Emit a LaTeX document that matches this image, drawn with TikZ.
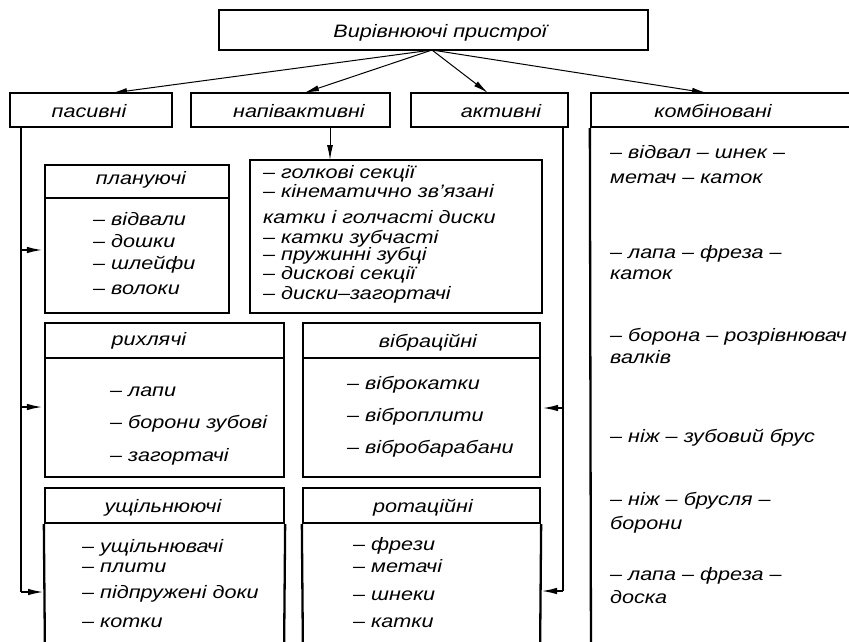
\documentclass[tikz,border=0pt]{standalone}
\usepackage{fontspec}
\setmainfont{Liberation Sans}[FakeStretch=1.2]
\usetikzlibrary{arrows.meta}
\begin{document}
\begin{tikzpicture}[x=1pt,y=-1pt,
  font=\fontsize{18}{20}\selectfont\itshape,
  box/.style={draw, line width=2.3pt, rectangle, inner sep=0pt},
  txt/.style={anchor=base west, inner sep=0pt},
  lbl/.style={anchor=base, inner sep=0pt},
  conn/.style={line width=2.3pt},
  arr/.style={line width=2.3pt, -{Latex[length=17pt,width=6.5pt]}},
  thinarr/.style={line width=1pt, -{Latex[length=15pt,width=6pt]}}]
\useasboundingbox (0,0) rectangle (849,641);

% top box
\node[box, minimum width=429pt, minimum height=40pt] (top) at (433.5,30) {};
\node[lbl] (toplbl) at (440,37) {Вирівнюючі пристрої};

% main row
\node[box, minimum width=162pt, minimum height=34pt] (pas) at (91,110) {};
\node[lbl] (paslbl) at (89,117) {пасивні};
\node[box, minimum width=199pt, minimum height=34pt] (nap) at (290.5,110) {};
\node[lbl] (naplbl) at (299,117) {напівактивні};
\node[box, minimum width=157pt, minimum height=34pt] (akt) at (489.5,110) {};
\node[lbl] (aktlbl) at (501,117) {активні};
\node[box, minimum width=279pt, minimum height=34pt] (komb) at (730.5,110) {};
\node[lbl] (komblbl) at (713,117) {комбіновані};
\draw[conn] (komb.south west) -- (591,660);

% top arrows
\coordinate (src) at (432,50);
\coordinate (t1) at (112,93);
\coordinate (t2) at (304,93);
\coordinate (t3) at (488,93);
\coordinate (t4) at (707,93);
\draw[thinarr] (src) -- (t1);
\draw[thinarr] (src) -- (t2);
\draw[thinarr] (src) -- (t3);
\draw[thinarr] (src) -- (t4);

% planuyuchi
\node[box, minimum width=184pt, minimum height=33pt] (plh) at (137,181.5) {};
\node[lbl] (pll) at (141,184) {плануючі};
\node[box, minimum width=184pt, minimum height=115pt] (plb) at (137,255.5) {};
\node[txt] at (93,225) {– відвали};
\node[txt] at (93,247) {– дошки};
\node[txt] at (93,269) {– шлейфи};
\node[txt] at (93,294) {– волоки};

% napivaktyvni list
\node[box, minimum width=292pt, minimum height=153pt] (napb) at (396,236.5) {};
\node[txt] at (263,178) {– голкові секції};
\node[txt] at (263,197) {– кінематично зв’язані};
\node[txt] at (263,223) {катки і голчасті диски};
\node[txt] at (263,243) {– катки зубчасті};
\node[txt] at (263,260) {– пружинні зубці};
\node[txt] at (263,279) {– дискові секції};
\node[txt] at (263,299) {– диски–загортачі};
\coordinate (n0) at (330,127);
\coordinate (n1) at (330,160);
\draw[thinarr] (n0) -- (n1);

% rykhlyachi
\node[box, minimum width=239pt, minimum height=35pt] (ryh) at (164.5,340.5) {};
\node[lbl] at (149,345) {рихлячі};
\node[box, minimum width=239pt, minimum height=119pt] (ryb) at (164.5,417.5) {};
\node[txt] at (110,396) {– лапи};
\node[txt] at (110,428) {– борони зубові};
\node[txt] at (110,461) {– загортачі};

% vibratsiyni
\node[box, minimum width=237pt, minimum height=35pt] (vih) at (421.5,340.5) {};
\node[lbl] at (428,347) {вібраційні};
\node[box, minimum width=237pt, minimum height=119pt] (vib) at (421.5,417.5) {};
\node[txt] at (347,389) {– віброкатки};
\node[txt] at (347,421) {– віброплити};
\node[txt] at (347,453) {– вібробарабани};

% ushchilnyuyuchi
\node[box, minimum width=239pt, minimum height=35pt] (ush) at (164.5,505.5) {};
\node[lbl] at (163,512) {ущільнюючі};
\draw[conn] (ush.south west) -- (45,660);
\draw[conn] (ush.south east) -- (284,660);
\node[txt] at (82,552) {– ущільнювачі};
\node[txt] at (82,572) {– плити};
\node[txt] at (82,598) {– підпружені доки};
\node[txt] at (82,627) {– котки};

% rotatsiyni
\node[box, minimum width=237pt, minimum height=35pt] (roh) at (421.5,505.5) {};
\node[lbl] at (423,512) {ротаційні};
\draw[conn] (roh.south west) -- (303,660);
\draw[conn] (roh.south east) -- (540,660);
\node[txt] at (353,550) {– фрези};
\node[txt] at (353,572) {– метачі};
\node[txt] at (353,600) {– шнеки};
\node[txt] at (353,627) {– катки};

% kombinovani text
\node[txt] at (610,158) {– відвал – шнек –};
\node[txt] at (610,183) {метач – каток};
\node[txt] at (610,258) {– лапа – фреза –};
\node[txt] at (610,279) {каток};
\node[txt] at (610,341) {– борона – розрівнювач};
\node[txt] at (610,363) {валків};
\node[txt] at (610,442) {– ніж – зубовий брус};
\node[txt] at (610,505) {– ніж – брусля –};
\node[txt] at (610,529) {борони};
\node[txt] at (610,580) {– лапа – фреза –};
\node[txt] at (610,603) {доска};

% passive bus
\coordinate (p0) at (21,127);
\coordinate (p1) at (21,250);
\coordinate (p2) at (21,407);
\coordinate (p3) at (21,592);
\draw[conn] (p0) -- (p3);
\draw[arr] (p1) -- (plb.west |- p1);
\draw[arr] (p2) -- (ryb.west |- p2);
\draw[arr] (p3) -- (45,592);

% active bus
\coordinate (a0) at (563,127);
\coordinate (a2) at (563,408);
\coordinate (a3) at (563,591);
\draw[conn] (a0) -- (a3);
\draw[arr] (a2) -- (vib.east |- a2);
\draw[arr] (a3) -- (540,591);
\end{tikzpicture}
\end{document}
